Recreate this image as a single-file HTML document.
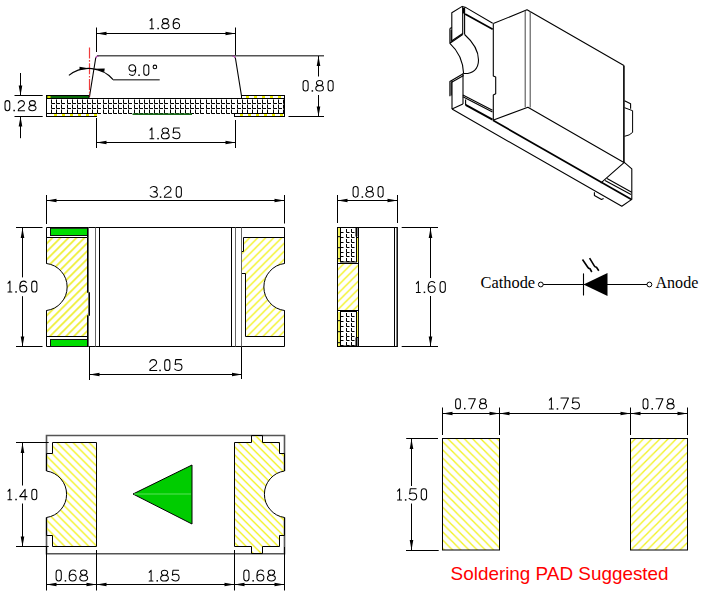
<!DOCTYPE html><html><head><meta charset="utf-8"><style>html,body{margin:0;padding:0;background:#fff;width:706px;height:609px;overflow:hidden;position:relative}</style></head><body><svg width="706" height="609" viewBox="0 0 706 609" style="display:block;position:absolute;left:0;top:0">

<defs>
 <pattern id="hatchA" patternUnits="userSpaceOnUse" width="8" height="8" patternTransform="translate(2.3,0)">
   <path d="M-2,10 L10,-2 M-2,2 L2,-2 M6,10 L10,6" stroke="#eeee30" stroke-width="1.7"/>
 </pattern>
 <pattern id="hatchC" patternUnits="userSpaceOnUse" width="8" height="8" patternTransform="translate(-0.5,0)">
   <path d="M-2,10 L10,-2 M-2,2 L2,-2 M6,10 L10,6" stroke="#f2f220" stroke-width="1.35"/>
 </pattern>
 <pattern id="hatchB" patternUnits="userSpaceOnUse" width="8" height="8" patternTransform="translate(6.5,0)">
   <path d="M-2,-2 L10,10 M-2,6 L2,10 M6,-2 L10,2" stroke="#f2f220" stroke-width="1.35"/>
 </pattern>
 <pattern id="hatchB2" patternUnits="userSpaceOnUse" width="8" height="8" patternTransform="translate(3.8,0)">
   <path d="M-2,-2 L10,10 M-2,6 L2,10 M6,-2 L10,2" stroke="#f2f220" stroke-width="1.35"/>
 </pattern>
 <pattern id="hatchS1" patternUnits="userSpaceOnUse" width="8.2" height="8.2" patternTransform="translate(1,0)">
   <path d="M-2,-2 L10.2,10.2 M-2,6.2 L2,10.2 M6.2,-2 L10.2,2" stroke="#f2f220" stroke-width="1.3"/>
 </pattern>
 <pattern id="hatchS2" patternUnits="userSpaceOnUse" width="8.2" height="8.2">
   <path d="M-2,10.2 L10.2,-2 M-2,2 L2,-2 M6.2,10.2 L10.2,6.2" stroke="#f2f220" stroke-width="1.3"/>
 </pattern>
 <pattern id="grid" patternUnits="userSpaceOnUse" width="5.15" height="4.85" x="51.1" y="98.9">
   <path d="M0,0.6 V4.3 H3.6" stroke="#000" stroke-width="1.1" fill="none" shape-rendering="crispEdges"/>
 </pattern>
 <pattern id="grid2" patternUnits="userSpaceOnUse" width="5.2" height="5.2" x="340" y="227.5">
   <path d="M1,0.9 V4.5 H4.2" stroke="#111" stroke-width="1.1" fill="none"/>
 </pattern>
</defs>

<rect width="706" height="609" fill="#fff"/>
<line x1="96.5" y1="27.50" x2="96.5" y2="52.00" stroke="#000" stroke-width="1"/>
<line x1="235.5" y1="27.50" x2="235.5" y2="55.00" stroke="#000" stroke-width="1"/>
<line x1="96.50" y1="33.5" x2="235.50" y2="33.5" stroke="#000" stroke-width="1"/>
<path d="M96.50,33.50 L106.50,31.70 L106.50,35.30 Z" fill="#000"/>
<path d="M235.50,33.50 L225.50,35.30 L225.50,31.70 Z" fill="#000"/>
<path transform="translate(147.43,18.62) scale(0.822,0.914)" d="M3.2,2.2 L5.4,0 V11 M3.2,11 H7.5" fill="none" stroke="#000" stroke-width="1.05" vector-effect="non-scaling-stroke" stroke-linecap="round" stroke-linejoin="round"/>
<rect x="157.40" y="27.77" width="1.5" height="1.5" fill="#000"/>
<path transform="translate(161.70,18.62) scale(0.822,0.914)" d="M4.5,5.2 C2.4,5.2 0.9,4.2 0.9,2.6 C0.9,1 2.4,0 4.5,0 C6.6,0 8.1,1 8.1,2.6 C8.1,4.2 6.6,5.2 4.5,5.2 C2,5.2 0.1,6.4 0.1,8.1 C0.1,9.9 2,11 4.5,11 C7,11 8.9,9.9 8.9,8.1 C8.9,6.4 7,5.2 4.5,5.2 Z" fill="none" stroke="#000" stroke-width="1.05" vector-effect="non-scaling-stroke" stroke-linecap="round" stroke-linejoin="round"/>
<path transform="translate(172.70,18.62) scale(0.822,0.914)" d="M7.8,1.2 C7,0.4 5.9,0 4.6,0 C2,0 0.6,2.4 0.6,6 V7.4 C0.6,9.6 2.2,11 4.5,11 C6.8,11 8.4,9.6 8.4,7.6 C8.4,5.6 6.8,4.3 4.6,4.3 C2.6,4.3 1.2,5.2 0.6,6.6" fill="none" stroke="#000" stroke-width="1.05" vector-effect="non-scaling-stroke" stroke-linecap="round" stroke-linejoin="round"/>
<line x1="97" y1="55.8" x2="324" y2="55.8" stroke="#555" stroke-width="1.6"/>
<path d="M89.5,96.5 L95.7,58 Q96.3,55.8 98.5,55.8" fill="none" stroke="#000" stroke-width="1.1"/>
<path d="M241.6,96.5 L235.4,58 Q234.8,55.8 232.5,55.8" fill="none" stroke="#000" stroke-width="1.1"/>
<path d="M95.7,58 Q96.3,55.8 98.5,55.8" fill="none" stroke="#c060c0" stroke-width="1.2"/>
<path d="M235.4,58 Q234.8,55.8 232.5,55.8" fill="none" stroke="#c060c0" stroke-width="1.2"/>
<line x1="89.5" y1="47.5" x2="89.5" y2="97" stroke="#f03c3c" stroke-width="1.2" stroke-dasharray="11,1.6,1.6,1.6"/>
<path d="M68.9,75.4 A32,32 0 0 1 113.1,79.6" fill="none" stroke="#000" stroke-width="1.15"/>
<path d="M89.50,68.40 L79.50,70.10 L79.50,66.70 Z" fill="#000"/>
<path d="M94.60,68.70 L104.74,68.60 L104.21,71.96 Z" fill="#000"/>
<line x1="113" y1="79.8" x2="159.7" y2="79.8" stroke="#555" stroke-width="1.4"/>
<path transform="translate(128.42,64.83) scale(0.863,0.959)" d="M1.2,9.8 C2,10.6 3.1,11 4.4,11 C7,11 8.4,8.6 8.4,5 V3.6 C8.4,1.4 6.8,0 4.5,0 C2.2,0 0.6,1.4 0.6,3.4 C0.6,5.4 2.2,6.7 4.4,6.7 C6.4,6.7 7.8,5.8 8.4,4.4" fill="none" stroke="#000" stroke-width="1.05" vector-effect="non-scaling-stroke" stroke-linecap="round" stroke-linejoin="round"/>
<rect x="138.30" y="74.47" width="1.5" height="1.5" fill="#000"/>
<path transform="translate(142.42,64.83) scale(0.863,0.959)" d="M1.6,2.9 A2.9,2.9 0 0 1 7.4,2.9 V8.1 A2.9,2.9 0 0 1 1.6,8.1 Z" fill="none" stroke="#000" stroke-width="1.05" vector-effect="non-scaling-stroke" stroke-linecap="round" stroke-linejoin="round"/>
<circle cx="154.90" cy="66.92" r="1.8" fill="none" stroke="#000" stroke-width="1.05"/>
<rect x="46.5" y="98.5" width="238" height="15" fill="#fff"/>
<path d="M51.5,99.5 V103.5 H55.0 M51.5,104.5 V108.5 H55.0 M51.5,109.5 V113.5 H55.0 M56.5,99.5 V103.5 H60.0 M56.5,104.5 V108.5 H60.0 M56.5,109.5 V113.5 H60.0 M61.5,99.5 V103.5 H65.0 M61.5,104.5 V108.5 H65.0 M61.5,109.5 V113.5 H65.0 M67.5,99.5 V103.5 H71.0 M67.5,104.5 V108.5 H71.0 M67.5,109.5 V113.5 H71.0 M72.5,99.5 V103.5 H76.0 M72.5,104.5 V108.5 H76.0 M72.5,109.5 V113.5 H76.0 M77.5,99.5 V103.5 H81.0 M77.5,104.5 V108.5 H81.0 M77.5,109.5 V113.5 H81.0 M82.5,99.5 V103.5 H86.0 M82.5,104.5 V108.5 H86.0 M82.5,109.5 V113.5 H86.0 M87.5,99.5 V103.5 H91.0 M87.5,104.5 V108.5 H91.0 M87.5,109.5 V113.5 H91.0 M92.5,99.5 V103.5 H96.0 M92.5,104.5 V108.5 H96.0 M92.5,109.5 V113.5 H96.0 M97.5,99.5 V103.5 H101.0 M97.5,104.5 V108.5 H101.0 M97.5,109.5 V113.5 H101.0 M103.5,99.5 V103.5 H107.0 M103.5,104.5 V108.5 H107.0 M103.5,109.5 V113.5 H107.0 M108.5,99.5 V103.5 H112.0 M108.5,104.5 V108.5 H112.0 M108.5,109.5 V113.5 H112.0 M113.5,99.5 V103.5 H117.0 M113.5,104.5 V108.5 H117.0 M113.5,109.5 V113.5 H117.0 M118.5,99.5 V103.5 H122.0 M118.5,104.5 V108.5 H122.0 M118.5,109.5 V113.5 H122.0 M123.5,99.5 V103.5 H127.0 M123.5,104.5 V108.5 H127.0 M123.5,109.5 V113.5 H127.0 M128.5,99.5 V103.5 H132.0 M128.5,104.5 V108.5 H132.0 M128.5,109.5 V113.5 H132.0 M134.5,99.5 V103.5 H138.0 M134.5,104.5 V108.5 H138.0 M134.5,109.5 V113.5 H138.0 M139.5,99.5 V103.5 H143.0 M139.5,104.5 V108.5 H143.0 M139.5,109.5 V113.5 H143.0 M144.5,99.5 V103.5 H148.0 M144.5,104.5 V108.5 H148.0 M144.5,109.5 V113.5 H148.0 M149.5,99.5 V103.5 H153.0 M149.5,104.5 V108.5 H153.0 M149.5,109.5 V113.5 H153.0 M154.5,99.5 V103.5 H158.0 M154.5,104.5 V108.5 H158.0 M154.5,109.5 V113.5 H158.0 M159.5,99.5 V103.5 H163.0 M159.5,104.5 V108.5 H163.0 M159.5,109.5 V113.5 H163.0 M164.5,99.5 V103.5 H168.0 M164.5,104.5 V108.5 H168.0 M164.5,109.5 V113.5 H168.0 M170.5,99.5 V103.5 H174.0 M170.5,104.5 V108.5 H174.0 M170.5,109.5 V113.5 H174.0 M175.5,99.5 V103.5 H179.0 M175.5,104.5 V108.5 H179.0 M175.5,109.5 V113.5 H179.0 M180.5,99.5 V103.5 H184.0 M180.5,104.5 V108.5 H184.0 M180.5,109.5 V113.5 H184.0 M185.5,99.5 V103.5 H189.0 M185.5,104.5 V108.5 H189.0 M185.5,109.5 V113.5 H189.0 M190.5,99.5 V103.5 H194.0 M190.5,104.5 V108.5 H194.0 M190.5,109.5 V113.5 H194.0 M195.5,99.5 V103.5 H199.0 M195.5,104.5 V108.5 H199.0 M195.5,109.5 V113.5 H199.0 M200.5,99.5 V103.5 H204.0 M200.5,104.5 V108.5 H204.0 M200.5,109.5 V113.5 H204.0 M206.5,99.5 V103.5 H210.0 M206.5,104.5 V108.5 H210.0 M206.5,109.5 V113.5 H210.0 M211.5,99.5 V103.5 H215.0 M211.5,104.5 V108.5 H215.0 M211.5,109.5 V113.5 H215.0 M216.5,99.5 V103.5 H220.0 M216.5,104.5 V108.5 H220.0 M216.5,109.5 V113.5 H220.0 M221.5,99.5 V103.5 H225.0 M221.5,104.5 V108.5 H225.0 M221.5,109.5 V113.5 H225.0 M226.5,99.5 V103.5 H230.0 M226.5,104.5 V108.5 H230.0 M226.5,109.5 V113.5 H230.0 M231.5,99.5 V103.5 H235.0 M231.5,104.5 V108.5 H235.0 M231.5,109.5 V113.5 H235.0 M237.5,99.5 V103.5 H241.0 M237.5,104.5 V108.5 H241.0 M237.5,109.5 V113.5 H241.0 M242.5,99.5 V103.5 H246.0 M242.5,104.5 V108.5 H246.0 M242.5,109.5 V113.5 H246.0 M247.5,99.5 V103.5 H251.0 M247.5,104.5 V108.5 H251.0 M247.5,109.5 V113.5 H251.0 M252.5,99.5 V103.5 H256.0 M252.5,104.5 V108.5 H256.0 M252.5,109.5 V113.5 H256.0 M257.5,99.5 V103.5 H261.0 M257.5,104.5 V108.5 H261.0 M257.5,109.5 V113.5 H261.0 M262.5,99.5 V103.5 H266.0 M262.5,104.5 V108.5 H266.0 M262.5,109.5 V113.5 H266.0 M267.5,99.5 V103.5 H271.0 M267.5,104.5 V108.5 H271.0 M267.5,109.5 V113.5 H271.0 M273.5,99.5 V103.5 H277.0 M273.5,104.5 V108.5 H277.0 M273.5,109.5 V113.5 H277.0 M278.5,99.5 V103.5 H282.0 M278.5,104.5 V108.5 H282.0 M278.5,109.5 V113.5 H282.0 M283.5,99.5 V103.5 H284 M283.5,104.5 V108.5 H284 M283.5,109.5 V113.5 H284" stroke="#000" stroke-width="1" fill="none"/>
<rect x="46.5" y="95.5" width="42.5" height="3" fill="#0a6a0a" stroke="#000" stroke-width="1"/>
<rect x="47.5" y="96" width="3" height="2" fill="#e0e000"/>
<rect x="241.5" y="95.5" width="43" height="3" fill="#fff" stroke="#000" stroke-width="1"/>
<rect x="246" y="96" width="3" height="2" fill="#f0f000"/>
<rect x="254" y="96" width="3" height="2" fill="#f0f000"/>
<rect x="262" y="96" width="3" height="2" fill="#f0f000"/>
<rect x="270" y="96" width="3" height="2" fill="#f0f000"/>
<rect x="278" y="96" width="3" height="2" fill="#f0f000"/>
<rect x="46.5" y="113.5" width="50" height="3" fill="#fff" stroke="#000" stroke-width="1"/>
<rect x="54" y="114" width="3" height="2" fill="#f0f000"/>
<rect x="62" y="114" width="3" height="2" fill="#f0f000"/>
<rect x="70" y="114" width="3" height="2" fill="#f0f000"/>
<rect x="78" y="114" width="3" height="2" fill="#f0f000"/>
<rect x="86" y="114" width="3" height="2" fill="#f0f000"/>
<rect x="94" y="114" width="3" height="2" fill="#f0f000"/>
<rect x="234.5" y="113.5" width="50" height="3" fill="#fff" stroke="#000" stroke-width="1"/>
<rect x="240" y="114" width="3" height="2" fill="#f0f000"/>
<rect x="248" y="114" width="3" height="2" fill="#f0f000"/>
<rect x="256" y="114" width="3" height="2" fill="#f0f000"/>
<rect x="264" y="114" width="3" height="2" fill="#f0f000"/>
<rect x="272" y="114" width="3" height="2" fill="#f0f000"/>
<rect x="280" y="114" width="3" height="2" fill="#f0f000"/>
<rect x="132.5" y="113.3" width="59.5" height="1.7" fill="#1a6a1a"/>
<path d="M46.5,113.5 V98.5 H284.5 V113.5" fill="none" stroke="#000" stroke-width="1"/>
<line x1="14.50" y1="95.5" x2="42.70" y2="95.5" stroke="#000" stroke-width="1"/>
<line x1="14.50" y1="116.5" x2="42.70" y2="116.5" stroke="#000" stroke-width="1"/>
<line x1="20.5" y1="73.00" x2="20.5" y2="95.50" stroke="#000" stroke-width="1"/>
<line x1="20.5" y1="116.50" x2="20.5" y2="138.20" stroke="#000" stroke-width="1"/>
<path d="M20.50,95.50 L18.70,85.50 L22.30,85.50 Z" fill="#000"/>
<path d="M20.50,116.50 L22.30,126.50 L18.70,126.50 Z" fill="#000"/>
<path transform="translate(3.70,100.62) scale(0.822,0.914)" d="M1.6,2.9 A2.9,2.9 0 0 1 7.4,2.9 V8.1 A2.9,2.9 0 0 1 1.6,8.1 Z" fill="none" stroke="#000" stroke-width="1.05" vector-effect="non-scaling-stroke" stroke-linecap="round" stroke-linejoin="round"/>
<rect x="13.40" y="109.77" width="1.5" height="1.5" fill="#000"/>
<path transform="translate(17.70,100.62) scale(0.822,0.914)" d="M0.6,2.6 C1.2,0.9 2.6,0 4.4,0 C6.6,0 8.2,1.3 8.2,3.2 C8.2,5.2 6.4,6.1 4.2,7.3 C2,8.4 0.6,9.4 0.6,11 H8.4" fill="none" stroke="#000" stroke-width="1.05" vector-effect="non-scaling-stroke" stroke-linecap="round" stroke-linejoin="round"/>
<path transform="translate(28.70,100.62) scale(0.822,0.914)" d="M4.5,5.2 C2.4,5.2 0.9,4.2 0.9,2.6 C0.9,1 2.4,0 4.5,0 C6.6,0 8.1,1 8.1,2.6 C8.1,4.2 6.6,5.2 4.5,5.2 C2,5.2 0.1,6.4 0.1,8.1 C0.1,9.9 2,11 4.5,11 C7,11 8.9,9.9 8.9,8.1 C8.9,6.4 7,5.2 4.5,5.2 Z" fill="none" stroke="#000" stroke-width="1.05" vector-effect="non-scaling-stroke" stroke-linecap="round" stroke-linejoin="round"/>
<line x1="288.50" y1="116.5" x2="324.00" y2="116.5" stroke="#000" stroke-width="1"/>
<path d="M318.5,56.00 V76.50 M318.5,95.00 V116.50" stroke="#000" stroke-width="1" fill="none"/>
<path d="M318.50,56.00 L320.30,66.00 L316.70,66.00 Z" fill="#000"/>
<path d="M318.50,116.50 L316.70,106.50 L320.30,106.50 Z" fill="#000"/>
<path transform="translate(301.68,80.43) scale(0.871,0.968)" d="M1.6,2.9 A2.9,2.9 0 0 1 7.4,2.9 V8.1 A2.9,2.9 0 0 1 1.6,8.1 Z" fill="none" stroke="#000" stroke-width="1.05" vector-effect="non-scaling-stroke" stroke-linecap="round" stroke-linejoin="round"/>
<rect x="311.60" y="90.18" width="1.5" height="1.5" fill="#000"/>
<path transform="translate(315.68,80.43) scale(0.871,0.968)" d="M4.5,5.2 C2.4,5.2 0.9,4.2 0.9,2.6 C0.9,1 2.4,0 4.5,0 C6.6,0 8.1,1 8.1,2.6 C8.1,4.2 6.6,5.2 4.5,5.2 C2,5.2 0.1,6.4 0.1,8.1 C0.1,9.9 2,11 4.5,11 C7,11 8.9,9.9 8.9,8.1 C8.9,6.4 7,5.2 4.5,5.2 Z" fill="none" stroke="#000" stroke-width="1.05" vector-effect="non-scaling-stroke" stroke-linecap="round" stroke-linejoin="round"/>
<path transform="translate(326.68,80.43) scale(0.871,0.968)" d="M1.6,2.9 A2.9,2.9 0 0 1 7.4,2.9 V8.1 A2.9,2.9 0 0 1 1.6,8.1 Z" fill="none" stroke="#000" stroke-width="1.05" vector-effect="non-scaling-stroke" stroke-linecap="round" stroke-linejoin="round"/>
<line x1="96.5" y1="118.00" x2="96.5" y2="148.00" stroke="#000" stroke-width="1"/>
<line x1="235.5" y1="120.00" x2="235.5" y2="148.00" stroke="#000" stroke-width="1"/>
<line x1="96.50" y1="142.5" x2="235.50" y2="142.5" stroke="#000" stroke-width="1"/>
<path d="M96.50,142.50 L106.50,140.70 L106.50,144.30 Z" fill="#000"/>
<path d="M235.50,142.50 L225.50,144.30 L225.50,140.70 Z" fill="#000"/>
<path transform="translate(147.14,127.93) scale(0.888,0.986)" d="M3.2,2.2 L5.4,0 V11 M3.2,11 H7.5" fill="none" stroke="#000" stroke-width="1.05" vector-effect="non-scaling-stroke" stroke-linecap="round" stroke-linejoin="round"/>
<rect x="157.30" y="137.88" width="1.5" height="1.5" fill="#000"/>
<path transform="translate(161.31,127.93) scale(0.888,0.986)" d="M4.5,5.2 C2.4,5.2 0.9,4.2 0.9,2.6 C0.9,1 2.4,0 4.5,0 C6.6,0 8.1,1 8.1,2.6 C8.1,4.2 6.6,5.2 4.5,5.2 C2,5.2 0.1,6.4 0.1,8.1 C0.1,9.9 2,11 4.5,11 C7,11 8.9,9.9 8.9,8.1 C8.9,6.4 7,5.2 4.5,5.2 Z" fill="none" stroke="#000" stroke-width="1.05" vector-effect="non-scaling-stroke" stroke-linecap="round" stroke-linejoin="round"/>
<path transform="translate(172.31,127.93) scale(0.888,0.986)" d="M8,0 H1.6 L1,5 C2,4.4 3.3,4.1 4.5,4.1 C7,4.1 8.6,5.5 8.6,7.5 C8.6,9.6 6.9,11 4.4,11 C2.8,11 1.4,10.5 0.4,9.4" fill="none" stroke="#000" stroke-width="1.05" vector-effect="non-scaling-stroke" stroke-linecap="round" stroke-linejoin="round"/>
<line x1="46.5" y1="195.00" x2="46.5" y2="224.00" stroke="#000" stroke-width="1"/>
<line x1="284.5" y1="195.00" x2="284.5" y2="223.50" stroke="#000" stroke-width="1"/>
<line x1="46.50" y1="200.5" x2="284.50" y2="200.5" stroke="#000" stroke-width="1"/>
<path d="M46.50,200.50 L56.50,198.70 L56.50,202.30 Z" fill="#000"/>
<path d="M284.50,200.50 L274.50,202.30 L274.50,198.70 Z" fill="#000"/>
<path transform="translate(149.81,186.43) scale(0.888,0.986)" d="M0.6,1.6 C1.5,0.5 2.9,0 4.4,0 C6.6,0 8.2,1.2 8.2,2.9 C8.2,4.6 6.6,5.4 4.4,5.4 C7,5.4 8.6,6.6 8.6,8.3 C8.6,10 6.8,11 4.4,11 C2.8,11 1.4,10.5 0.4,9.4" fill="none" stroke="#000" stroke-width="1.05" vector-effect="non-scaling-stroke" stroke-linecap="round" stroke-linejoin="round"/>
<rect x="159.80" y="196.38" width="1.5" height="1.5" fill="#000"/>
<path transform="translate(163.81,186.43) scale(0.888,0.986)" d="M0.6,2.6 C1.2,0.9 2.6,0 4.4,0 C6.6,0 8.2,1.3 8.2,3.2 C8.2,5.2 6.4,6.1 4.2,7.3 C2,8.4 0.6,9.4 0.6,11 H8.4" fill="none" stroke="#000" stroke-width="1.05" vector-effect="non-scaling-stroke" stroke-linecap="round" stroke-linejoin="round"/>
<path transform="translate(174.81,186.43) scale(0.888,0.986)" d="M1.6,2.9 A2.9,2.9 0 0 1 7.4,2.9 V8.1 A2.9,2.9 0 0 1 1.6,8.1 Z" fill="none" stroke="#000" stroke-width="1.05" vector-effect="non-scaling-stroke" stroke-linecap="round" stroke-linejoin="round"/>
<path d="M46.5,263.5 V227.5 H284.5 V263.5 M284.5,310.5 V346.5 H46.5 V310.5" fill="#fff" stroke="#000" stroke-width="1"/>
<rect x="50.5" y="228.3" width="37" height="7.2" fill="#00dd00" stroke="#111" stroke-width="1"/>
<rect x="50.5" y="339.5" width="37" height="7" fill="#00dd00" stroke="#111" stroke-width="1"/>
<path d="M46.5,237.5 H87.5 V292.5 H89.5 V315.5 H87.5 V336.5 H46.5 V310.5 A23.7,23.7 0 0 0 46.5,263.5 Z" fill="url(#hatchA)"/>
<path d="M46.5,237.5 H87.5 V292.5 H89.5 V315.5 H87.5 V336.5 H46.5 V310.5 A23.7,23.7 0 0 0 46.5,263.5 Z" fill="none" stroke="#000" stroke-width="1"/>
<line x1="87.5" y1="227.50" x2="87.5" y2="237.50" stroke="#000" stroke-width="1"/>
<line x1="87.5" y1="336.50" x2="87.5" y2="346.50" stroke="#000" stroke-width="1"/>
<line x1="88.5" y1="227.50" x2="88.5" y2="346.50" stroke="#666" stroke-width="1"/>
<line x1="95.5" y1="227.50" x2="95.5" y2="346.50" stroke="#666" stroke-width="1"/>
<line x1="99.5" y1="227.50" x2="99.5" y2="346.50" stroke="#000" stroke-width="1"/>
<path d="M243.5,237.5 H284.5 V263.5 A23.7,23.7 0 0 0 284.5,310.5 V336.5 H245.5 V273.5 H241.5 V251.5 H243.5 Z" fill="url(#hatchC)"/>
<path d="M243.5,237.5 H284.5 V263.5 A23.7,23.7 0 0 0 284.5,310.5 V336.5 H245.5 V273.5 H241.5 V251.5 H243.5 Z" fill="none" stroke="#000" stroke-width="1"/>
<line x1="231.5" y1="227.50" x2="231.5" y2="346.50" stroke="#000" stroke-width="1"/>
<line x1="235.5" y1="227.50" x2="235.5" y2="346.50" stroke="#666" stroke-width="1"/>
<line x1="241.5" y1="227.50" x2="241.5" y2="346.50" stroke="#666" stroke-width="1"/>
<line x1="46.50" y1="336.5" x2="88.00" y2="336.5" stroke="#000" stroke-width="1"/>
<line x1="16.00" y1="227.5" x2="42.50" y2="227.5" stroke="#000" stroke-width="1"/>
<line x1="16.00" y1="346.5" x2="42.50" y2="346.5" stroke="#000" stroke-width="1"/>
<path d="M22.5,228.00 V277.40 M22.5,296.20 V346.50" stroke="#000" stroke-width="1" fill="none"/>
<path d="M22.50,228.00 L24.30,238.00 L20.70,238.00 Z" fill="#000"/>
<path d="M22.50,346.50 L20.70,336.50 L24.30,336.50 Z" fill="#000"/>
<path transform="translate(5.11,281.12) scale(0.896,0.995)" d="M3.2,2.2 L5.4,0 V11 M3.2,11 H7.5" fill="none" stroke="#000" stroke-width="1.05" vector-effect="non-scaling-stroke" stroke-linecap="round" stroke-linejoin="round"/>
<rect x="15.30" y="291.18" width="1.5" height="1.5" fill="#000"/>
<path transform="translate(19.27,281.12) scale(0.896,0.995)" d="M7.8,1.2 C7,0.4 5.9,0 4.6,0 C2,0 0.6,2.4 0.6,6 V7.4 C0.6,9.6 2.2,11 4.5,11 C6.8,11 8.4,9.6 8.4,7.6 C8.4,5.6 6.8,4.3 4.6,4.3 C2.6,4.3 1.2,5.2 0.6,6.6" fill="none" stroke="#000" stroke-width="1.05" vector-effect="non-scaling-stroke" stroke-linecap="round" stroke-linejoin="round"/>
<path transform="translate(30.27,281.12) scale(0.896,0.995)" d="M1.6,2.9 A2.9,2.9 0 0 1 7.4,2.9 V8.1 A2.9,2.9 0 0 1 1.6,8.1 Z" fill="none" stroke="#000" stroke-width="1.05" vector-effect="non-scaling-stroke" stroke-linecap="round" stroke-linejoin="round"/>
<line x1="89.5" y1="347.00" x2="89.5" y2="380.00" stroke="#000" stroke-width="1"/>
<line x1="241.5" y1="347.00" x2="241.5" y2="379.00" stroke="#000" stroke-width="1"/>
<line x1="89.50" y1="374.5" x2="242.00" y2="374.5" stroke="#000" stroke-width="1"/>
<path d="M89.50,374.50 L99.50,372.70 L99.50,376.30 Z" fill="#000"/>
<path d="M242.00,374.50 L232.00,376.30 L232.00,372.70 Z" fill="#000"/>
<path transform="translate(149.27,359.62) scale(0.896,0.995)" d="M0.6,2.6 C1.2,0.9 2.6,0 4.4,0 C6.6,0 8.2,1.3 8.2,3.2 C8.2,5.2 6.4,6.1 4.2,7.3 C2,8.4 0.6,9.4 0.6,11 H8.4" fill="none" stroke="#000" stroke-width="1.05" vector-effect="non-scaling-stroke" stroke-linecap="round" stroke-linejoin="round"/>
<rect x="159.30" y="369.68" width="1.5" height="1.5" fill="#000"/>
<path transform="translate(163.27,359.62) scale(0.896,0.995)" d="M1.6,2.9 A2.9,2.9 0 0 1 7.4,2.9 V8.1 A2.9,2.9 0 0 1 1.6,8.1 Z" fill="none" stroke="#000" stroke-width="1.05" vector-effect="non-scaling-stroke" stroke-linecap="round" stroke-linejoin="round"/>
<path transform="translate(174.27,359.62) scale(0.896,0.995)" d="M8,0 H1.6 L1,5 C2,4.4 3.3,4.1 4.5,4.1 C7,4.1 8.6,5.5 8.6,7.5 C8.6,9.6 6.9,11 4.4,11 C2.8,11 1.4,10.5 0.4,9.4" fill="none" stroke="#000" stroke-width="1.05" vector-effect="non-scaling-stroke" stroke-linecap="round" stroke-linejoin="round"/>
<line x1="337.5" y1="195.00" x2="337.5" y2="223.00" stroke="#000" stroke-width="1"/>
<line x1="397.5" y1="195.00" x2="397.5" y2="223.00" stroke="#000" stroke-width="1"/>
<line x1="337.50" y1="200.5" x2="397.50" y2="200.5" stroke="#000" stroke-width="1"/>
<path d="M337.50,200.50 L347.50,198.70 L347.50,202.30 Z" fill="#000"/>
<path d="M397.50,200.50 L387.50,202.30 L387.50,198.70 Z" fill="#000"/>
<path transform="translate(351.68,186.53) scale(0.871,0.968)" d="M1.6,2.9 A2.9,2.9 0 0 1 7.4,2.9 V8.1 A2.9,2.9 0 0 1 1.6,8.1 Z" fill="none" stroke="#000" stroke-width="1.05" vector-effect="non-scaling-stroke" stroke-linecap="round" stroke-linejoin="round"/>
<rect x="361.60" y="196.28" width="1.5" height="1.5" fill="#000"/>
<path transform="translate(365.68,186.53) scale(0.871,0.968)" d="M4.5,5.2 C2.4,5.2 0.9,4.2 0.9,2.6 C0.9,1 2.4,0 4.5,0 C6.6,0 8.1,1 8.1,2.6 C8.1,4.2 6.6,5.2 4.5,5.2 C2,5.2 0.1,6.4 0.1,8.1 C0.1,9.9 2,11 4.5,11 C7,11 8.9,9.9 8.9,8.1 C8.9,6.4 7,5.2 4.5,5.2 Z" fill="none" stroke="#000" stroke-width="1.05" vector-effect="non-scaling-stroke" stroke-linecap="round" stroke-linejoin="round"/>
<path transform="translate(376.68,186.53) scale(0.871,0.968)" d="M1.6,2.9 A2.9,2.9 0 0 1 7.4,2.9 V8.1 A2.9,2.9 0 0 1 1.6,8.1 Z" fill="none" stroke="#000" stroke-width="1.05" vector-effect="non-scaling-stroke" stroke-linecap="round" stroke-linejoin="round"/>
<rect x="337.5" y="227.5" width="59.7" height="119" fill="#fff" stroke="#000" stroke-width="1"/>
<line x1="394.5" y1="227.50" x2="394.5" y2="346.50" stroke="#000" stroke-width="1"/>
<line x1="358.5" y1="227.50" x2="358.5" y2="346.50" stroke="#000" stroke-width="1"/>
<rect x="338" y="263" width="20" height="47" fill="url(#hatchC)"/>
<line x1="337.50" y1="263.5" x2="358.20" y2="263.5" stroke="#000" stroke-width="1"/>
<line x1="337.50" y1="310.5" x2="358.20" y2="310.5" stroke="#000" stroke-width="1"/>
<rect x="338.2" y="228" width="1.8" height="34" fill="#f4f450"/>
<rect x="338" y="236" width="2.2" height="1.2" fill="#222"/>
<rect x="338" y="247" width="2.2" height="1.2" fill="#222"/>
<rect x="338" y="258" width="2.2" height="1.2" fill="#222"/>
<rect x="356.6" y="237" width="1.5" height="25" fill="#f4f450"/>
<path d="M356.5,237.5 H358.2" stroke="#000" stroke-width="1"/>
<rect x="340.5" y="227.5" width="16" height="34.5" fill="#fff" stroke="#000" stroke-width="1"/>
<path d="M340.5,229.0 V232.5 H343.5 M340.5,234.0 V237.5 H343.5 M340.5,239.0 V242.5 H343.5 M340.5,244.0 V247.5 H343.5 M340.5,249.0 V252.5 H343.5 M340.5,253.0 V256.5 H343.5 M340.5,258.0 V261.5 H343.5 M346.5,229.0 V232.5 H349.5 M346.5,234.0 V237.5 H349.5 M346.5,239.0 V242.5 H349.5 M346.5,244.0 V247.5 H349.5 M346.5,249.0 V252.5 H349.5 M346.5,253.0 V256.5 H349.5 M346.5,258.0 V261.5 H349.5 M351.5,229.0 V232.5 H354.5 M351.5,234.0 V237.5 H354.5 M351.5,239.0 V242.5 H354.5 M351.5,244.0 V247.5 H354.5 M351.5,249.0 V252.5 H354.5 M351.5,253.0 V256.5 H354.5 M351.5,258.0 V261.5 H354.5" stroke="#000" stroke-width="1" fill="none"/>
<rect x="338.2" y="312" width="1.8" height="34" fill="#f4f450"/>
<rect x="338" y="320" width="2.2" height="1.2" fill="#222"/>
<rect x="338" y="331" width="2.2" height="1.2" fill="#222"/>
<rect x="338" y="342" width="2.2" height="1.2" fill="#222"/>
<rect x="356.6" y="312" width="1.5" height="25" fill="#f4f450"/>
<path d="M356.5,337.5 H358.2" stroke="#000" stroke-width="1"/>
<rect x="340.5" y="311.5" width="16" height="34.5" fill="#fff" stroke="#000" stroke-width="1"/>
<path d="M340.5,313.0 V316.5 H343.5 M340.5,318.0 V321.5 H343.5 M340.5,323.0 V326.5 H343.5 M340.5,328.0 V331.5 H343.5 M340.5,333.0 V336.5 H343.5 M340.5,337.0 V340.5 H343.5 M340.5,342.0 V345.5 H343.5 M346.5,313.0 V316.5 H349.5 M346.5,318.0 V321.5 H349.5 M346.5,323.0 V326.5 H349.5 M346.5,328.0 V331.5 H349.5 M346.5,333.0 V336.5 H349.5 M346.5,337.0 V340.5 H349.5 M346.5,342.0 V345.5 H349.5 M351.5,313.0 V316.5 H354.5 M351.5,318.0 V321.5 H354.5 M351.5,323.0 V326.5 H354.5 M351.5,328.0 V331.5 H354.5 M351.5,333.0 V336.5 H354.5 M351.5,337.0 V340.5 H354.5 M351.5,342.0 V345.5 H354.5" stroke="#000" stroke-width="1" fill="none"/>
<path d="M356.5,228 V236.5 M356.5,337.5 V346" stroke="#000" stroke-width="2"/>
<rect x="337.5" y="227.5" width="59.7" height="119" fill="none" stroke="#000" stroke-width="1"/>
<line x1="401.70" y1="227.5" x2="438.00" y2="227.5" stroke="#000" stroke-width="1"/>
<line x1="401.70" y1="346.5" x2="438.00" y2="346.5" stroke="#000" stroke-width="1"/>
<path d="M430.5,228.00 V278.00 M430.5,296.00 V346.50" stroke="#000" stroke-width="1" fill="none"/>
<path d="M430.50,228.00 L432.30,238.00 L428.70,238.00 Z" fill="#000"/>
<path d="M430.50,346.50 L428.70,336.50 L432.30,336.50 Z" fill="#000"/>
<path transform="translate(413.49,281.42) scale(0.904,1.005)" d="M3.2,2.2 L5.4,0 V11 M3.2,11 H7.5" fill="none" stroke="#000" stroke-width="1.05" vector-effect="non-scaling-stroke" stroke-linecap="round" stroke-linejoin="round"/>
<rect x="423.70" y="291.57" width="1.5" height="1.5" fill="#000"/>
<path transform="translate(427.63,281.42) scale(0.904,1.005)" d="M7.8,1.2 C7,0.4 5.9,0 4.6,0 C2,0 0.6,2.4 0.6,6 V7.4 C0.6,9.6 2.2,11 4.5,11 C6.8,11 8.4,9.6 8.4,7.6 C8.4,5.6 6.8,4.3 4.6,4.3 C2.6,4.3 1.2,5.2 0.6,6.6" fill="none" stroke="#000" stroke-width="1.05" vector-effect="non-scaling-stroke" stroke-linecap="round" stroke-linejoin="round"/>
<path transform="translate(438.63,281.42) scale(0.904,1.005)" d="M1.6,2.9 A2.9,2.9 0 0 1 7.4,2.9 V8.1 A2.9,2.9 0 0 1 1.6,8.1 Z" fill="none" stroke="#000" stroke-width="1.05" vector-effect="non-scaling-stroke" stroke-linecap="round" stroke-linejoin="round"/>
<path d="M46.5,471 V435.5 H284.5 V471 M284.5,517.5 V553.8 H46.5 V517.5" fill="none" stroke="#555" stroke-width="1.6"/>
<path d="M52.5,442.5 H96.5 V546.5 H52.5 V535.5 H46.5 V517.5 A23.5,23.5 0 0 0 46.5,471 V453.5 H52.5 Z" fill="url(#hatchB)"/>
<path d="M52.5,442.5 H96.5 V546.5 H52.5 V535.5 H46.5 V517.5 A23.5,23.5 0 0 0 46.5,471 V453.5 H52.5 Z" fill="none" stroke="#000" stroke-width="1"/>
<path d="M234.5,442.5 H251.5 V435.5 H262.5 V442.5 H279.5 V453.5 H284.5 V471 A23.5,23.5 0 0 0 284.5,517.5 V535.5 H279.5 V546.5 H262.5 V553.5 H251.5 V546.5 H234.5 Z" fill="url(#hatchB2)"/>
<path d="M234.5,442.5 H251.5 V435.5 H262.5 V442.5 H279.5 V453.5 H284.5 V471 A23.5,23.5 0 0 0 284.5,517.5 V535.5 H279.5 V546.5 H262.5 V553.5 H251.5 V546.5 H234.5 Z" fill="none" stroke="#000" stroke-width="1"/>
<path d="M133,494 L192,465 L192,524 Z" fill="#00cc00" stroke="#000" stroke-width="1"/>
<line x1="134" y1="494" x2="191" y2="494" stroke="#5be05b" stroke-width="1"/>
<line x1="16.00" y1="442.5" x2="48.70" y2="442.5" stroke="#000" stroke-width="1"/>
<line x1="16.00" y1="546.5" x2="48.70" y2="546.5" stroke="#000" stroke-width="1"/>
<path d="M22.5,443.00 V485.50 M22.5,503.50 V546.50" stroke="#000" stroke-width="1" fill="none"/>
<path d="M22.50,443.00 L24.30,453.00 L20.70,453.00 Z" fill="#000"/>
<path d="M22.50,546.50 L20.70,536.50 L24.30,536.50 Z" fill="#000"/>
<path transform="translate(5.23,489.22) scale(0.855,0.950)" d="M3.2,2.2 L5.4,0 V11 M3.2,11 H7.5" fill="none" stroke="#000" stroke-width="1.05" vector-effect="non-scaling-stroke" stroke-linecap="round" stroke-linejoin="round"/>
<rect x="15.30" y="498.77" width="1.5" height="1.5" fill="#000"/>
<path transform="translate(19.45,489.22) scale(0.855,0.950)" d="M6.6,11 V0 L0.3,7.8 H8.8" fill="none" stroke="#000" stroke-width="1.05" vector-effect="non-scaling-stroke" stroke-linecap="round" stroke-linejoin="round"/>
<path transform="translate(30.45,489.22) scale(0.855,0.950)" d="M1.6,2.9 A2.9,2.9 0 0 1 7.4,2.9 V8.1 A2.9,2.9 0 0 1 1.6,8.1 Z" fill="none" stroke="#000" stroke-width="1.05" vector-effect="non-scaling-stroke" stroke-linecap="round" stroke-linejoin="round"/>
<line x1="46.5" y1="547.00" x2="46.5" y2="590.50" stroke="#000" stroke-width="1"/>
<line x1="96.5" y1="550.00" x2="96.5" y2="590.50" stroke="#000" stroke-width="1"/>
<line x1="234.5" y1="550.00" x2="234.5" y2="590.50" stroke="#000" stroke-width="1"/>
<line x1="284.5" y1="547.00" x2="284.5" y2="590.50" stroke="#000" stroke-width="1"/>
<line x1="46.50" y1="584.5" x2="96.50" y2="584.5" stroke="#000" stroke-width="1"/>
<path d="M46.50,584.50 L56.50,582.70 L56.50,586.30 Z" fill="#000"/>
<path d="M96.50,584.50 L86.50,586.30 L86.50,582.70 Z" fill="#000"/>
<line x1="96.50" y1="584.5" x2="234.50" y2="584.5" stroke="#000" stroke-width="1"/>
<path d="M96.50,584.50 L106.50,582.70 L106.50,586.30 Z" fill="#000"/>
<path d="M234.50,584.50 L224.50,586.30 L224.50,582.70 Z" fill="#000"/>
<line x1="234.50" y1="584.5" x2="284.50" y2="584.5" stroke="#000" stroke-width="1"/>
<path d="M234.50,584.50 L244.50,582.70 L244.50,586.30 Z" fill="#000"/>
<path d="M284.50,584.50 L274.50,586.30 L274.50,582.70 Z" fill="#000"/>
<path transform="translate(54.67,570.02) scale(0.896,0.995)" d="M1.6,2.9 A2.9,2.9 0 0 1 7.4,2.9 V8.1 A2.9,2.9 0 0 1 1.6,8.1 Z" fill="none" stroke="#000" stroke-width="1.05" vector-effect="non-scaling-stroke" stroke-linecap="round" stroke-linejoin="round"/>
<rect x="64.70" y="580.08" width="1.5" height="1.5" fill="#000"/>
<path transform="translate(68.67,570.02) scale(0.896,0.995)" d="M7.8,1.2 C7,0.4 5.9,0 4.6,0 C2,0 0.6,2.4 0.6,6 V7.4 C0.6,9.6 2.2,11 4.5,11 C6.8,11 8.4,9.6 8.4,7.6 C8.4,5.6 6.8,4.3 4.6,4.3 C2.6,4.3 1.2,5.2 0.6,6.6" fill="none" stroke="#000" stroke-width="1.05" vector-effect="non-scaling-stroke" stroke-linecap="round" stroke-linejoin="round"/>
<path transform="translate(79.67,570.02) scale(0.896,0.995)" d="M4.5,5.2 C2.4,5.2 0.9,4.2 0.9,2.6 C0.9,1 2.4,0 4.5,0 C6.6,0 8.1,1 8.1,2.6 C8.1,4.2 6.6,5.2 4.5,5.2 C2,5.2 0.1,6.4 0.1,8.1 C0.1,9.9 2,11 4.5,11 C7,11 8.9,9.9 8.9,8.1 C8.9,6.4 7,5.2 4.5,5.2 Z" fill="none" stroke="#000" stroke-width="1.05" vector-effect="non-scaling-stroke" stroke-linecap="round" stroke-linejoin="round"/>
<path transform="translate(146.36,570.23) scale(0.880,0.977)" d="M3.2,2.2 L5.4,0 V11 M3.2,11 H7.5" fill="none" stroke="#000" stroke-width="1.05" vector-effect="non-scaling-stroke" stroke-linecap="round" stroke-linejoin="round"/>
<rect x="156.50" y="580.08" width="1.5" height="1.5" fill="#000"/>
<path transform="translate(160.54,570.23) scale(0.880,0.977)" d="M4.5,5.2 C2.4,5.2 0.9,4.2 0.9,2.6 C0.9,1 2.4,0 4.5,0 C6.6,0 8.1,1 8.1,2.6 C8.1,4.2 6.6,5.2 4.5,5.2 C2,5.2 0.1,6.4 0.1,8.1 C0.1,9.9 2,11 4.5,11 C7,11 8.9,9.9 8.9,8.1 C8.9,6.4 7,5.2 4.5,5.2 Z" fill="none" stroke="#000" stroke-width="1.05" vector-effect="non-scaling-stroke" stroke-linecap="round" stroke-linejoin="round"/>
<path transform="translate(171.54,570.23) scale(0.880,0.977)" d="M8,0 H1.6 L1,5 C2,4.4 3.3,4.1 4.5,4.1 C7,4.1 8.6,5.5 8.6,7.5 C8.6,9.6 6.9,11 4.4,11 C2.8,11 1.4,10.5 0.4,9.4" fill="none" stroke="#000" stroke-width="1.05" vector-effect="non-scaling-stroke" stroke-linecap="round" stroke-linejoin="round"/>
<path transform="translate(242.37,570.02) scale(0.896,0.995)" d="M1.6,2.9 A2.9,2.9 0 0 1 7.4,2.9 V8.1 A2.9,2.9 0 0 1 1.6,8.1 Z" fill="none" stroke="#000" stroke-width="1.05" vector-effect="non-scaling-stroke" stroke-linecap="round" stroke-linejoin="round"/>
<rect x="252.40" y="580.08" width="1.5" height="1.5" fill="#000"/>
<path transform="translate(256.37,570.02) scale(0.896,0.995)" d="M7.8,1.2 C7,0.4 5.9,0 4.6,0 C2,0 0.6,2.4 0.6,6 V7.4 C0.6,9.6 2.2,11 4.5,11 C6.8,11 8.4,9.6 8.4,7.6 C8.4,5.6 6.8,4.3 4.6,4.3 C2.6,4.3 1.2,5.2 0.6,6.6" fill="none" stroke="#000" stroke-width="1.05" vector-effect="non-scaling-stroke" stroke-linecap="round" stroke-linejoin="round"/>
<path transform="translate(267.37,570.02) scale(0.896,0.995)" d="M4.5,5.2 C2.4,5.2 0.9,4.2 0.9,2.6 C0.9,1 2.4,0 4.5,0 C6.6,0 8.1,1 8.1,2.6 C8.1,4.2 6.6,5.2 4.5,5.2 C2,5.2 0.1,6.4 0.1,8.1 C0.1,9.9 2,11 4.5,11 C7,11 8.9,9.9 8.9,8.1 C8.9,6.4 7,5.2 4.5,5.2 Z" fill="none" stroke="#000" stroke-width="1.05" vector-effect="non-scaling-stroke" stroke-linecap="round" stroke-linejoin="round"/>
<rect x="442.5" y="438.5" width="57" height="111.5" fill="url(#hatchS1)" stroke="#000" stroke-width="1"/>
<rect x="630.5" y="438.5" width="57" height="111.5" fill="url(#hatchS2)" stroke="#000" stroke-width="1"/>
<line x1="442.5" y1="407.50" x2="442.5" y2="435.00" stroke="#000" stroke-width="1"/>
<line x1="499.5" y1="407.50" x2="499.5" y2="435.00" stroke="#000" stroke-width="1"/>
<line x1="630.5" y1="407.50" x2="630.5" y2="435.00" stroke="#000" stroke-width="1"/>
<line x1="687.5" y1="407.50" x2="687.5" y2="435.00" stroke="#000" stroke-width="1"/>
<line x1="442.50" y1="413.5" x2="499.50" y2="413.5" stroke="#000" stroke-width="1"/>
<path d="M442.50,413.50 L452.50,411.70 L452.50,415.30 Z" fill="#000"/>
<path d="M499.50,413.50 L489.50,415.30 L489.50,411.70 Z" fill="#000"/>
<line x1="499.50" y1="413.5" x2="630.50" y2="413.5" stroke="#000" stroke-width="1"/>
<path d="M499.50,413.50 L509.50,411.70 L509.50,415.30 Z" fill="#000"/>
<path d="M630.50,413.50 L620.50,415.30 L620.50,411.70 Z" fill="#000"/>
<line x1="630.50" y1="413.5" x2="687.50" y2="413.5" stroke="#000" stroke-width="1"/>
<path d="M630.50,413.50 L640.50,411.70 L640.50,415.30 Z" fill="#000"/>
<path d="M687.50,413.50 L677.50,415.30 L677.50,411.70 Z" fill="#000"/>
<path transform="translate(454.34,398.82) scale(0.814,0.905)" d="M1.6,2.9 A2.9,2.9 0 0 1 7.4,2.9 V8.1 A2.9,2.9 0 0 1 1.6,8.1 Z" fill="none" stroke="#000" stroke-width="1.05" vector-effect="non-scaling-stroke" stroke-linecap="round" stroke-linejoin="round"/>
<rect x="464.00" y="407.88" width="1.5" height="1.5" fill="#000"/>
<path transform="translate(468.34,398.82) scale(0.814,0.905)" d="M0.4,0 H8.6 L3.2,11" fill="none" stroke="#000" stroke-width="1.05" vector-effect="non-scaling-stroke" stroke-linecap="round" stroke-linejoin="round"/>
<path transform="translate(479.34,398.82) scale(0.814,0.905)" d="M4.5,5.2 C2.4,5.2 0.9,4.2 0.9,2.6 C0.9,1 2.4,0 4.5,0 C6.6,0 8.1,1 8.1,2.6 C8.1,4.2 6.6,5.2 4.5,5.2 C2,5.2 0.1,6.4 0.1,8.1 C0.1,9.9 2,11 4.5,11 C7,11 8.9,9.9 8.9,8.1 C8.9,6.4 7,5.2 4.5,5.2 Z" fill="none" stroke="#000" stroke-width="1.05" vector-effect="non-scaling-stroke" stroke-linecap="round" stroke-linejoin="round"/>
<path transform="translate(546.46,397.92) scale(0.912,1.014)" d="M3.2,2.2 L5.4,0 V11 M3.2,11 H7.5" fill="none" stroke="#000" stroke-width="1.05" vector-effect="non-scaling-stroke" stroke-linecap="round" stroke-linejoin="round"/>
<rect x="556.70" y="408.17" width="1.5" height="1.5" fill="#000"/>
<path transform="translate(560.59,397.92) scale(0.912,1.014)" d="M0.4,0 H8.6 L3.2,11" fill="none" stroke="#000" stroke-width="1.05" vector-effect="non-scaling-stroke" stroke-linecap="round" stroke-linejoin="round"/>
<path transform="translate(571.59,397.92) scale(0.912,1.014)" d="M8,0 H1.6 L1,5 C2,4.4 3.3,4.1 4.5,4.1 C7,4.1 8.6,5.5 8.6,7.5 C8.6,9.6 6.9,11 4.4,11 C2.8,11 1.4,10.5 0.4,9.4" fill="none" stroke="#000" stroke-width="1.05" vector-effect="non-scaling-stroke" stroke-linecap="round" stroke-linejoin="round"/>
<path transform="translate(641.76,398.82) scale(0.830,0.923)" d="M1.6,2.9 A2.9,2.9 0 0 1 7.4,2.9 V8.1 A2.9,2.9 0 0 1 1.6,8.1 Z" fill="none" stroke="#000" stroke-width="1.05" vector-effect="non-scaling-stroke" stroke-linecap="round" stroke-linejoin="round"/>
<rect x="651.50" y="408.07" width="1.5" height="1.5" fill="#000"/>
<path transform="translate(655.76,398.82) scale(0.830,0.923)" d="M0.4,0 H8.6 L3.2,11" fill="none" stroke="#000" stroke-width="1.05" vector-effect="non-scaling-stroke" stroke-linecap="round" stroke-linejoin="round"/>
<path transform="translate(666.76,398.82) scale(0.830,0.923)" d="M4.5,5.2 C2.4,5.2 0.9,4.2 0.9,2.6 C0.9,1 2.4,0 4.5,0 C6.6,0 8.1,1 8.1,2.6 C8.1,4.2 6.6,5.2 4.5,5.2 C2,5.2 0.1,6.4 0.1,8.1 C0.1,9.9 2,11 4.5,11 C7,11 8.9,9.9 8.9,8.1 C8.9,6.4 7,5.2 4.5,5.2 Z" fill="none" stroke="#000" stroke-width="1.05" vector-effect="non-scaling-stroke" stroke-linecap="round" stroke-linejoin="round"/>
<line x1="406.20" y1="438.5" x2="438.00" y2="438.5" stroke="#000" stroke-width="1"/>
<line x1="406.00" y1="550.5" x2="438.70" y2="550.5" stroke="#000" stroke-width="1"/>
<path d="M411.5,439.00 V486.00 M411.5,503.50 V550.00" stroke="#000" stroke-width="1" fill="none"/>
<path d="M411.50,439.00 L413.30,449.00 L409.70,449.00 Z" fill="#000"/>
<path d="M411.50,550.00 L409.70,540.00 L413.30,540.00 Z" fill="#000"/>
<path transform="translate(394.64,488.82) scale(0.920,1.023)" d="M3.2,2.2 L5.4,0 V11 M3.2,11 H7.5" fill="none" stroke="#000" stroke-width="1.05" vector-effect="non-scaling-stroke" stroke-linecap="round" stroke-linejoin="round"/>
<rect x="404.90" y="499.18" width="1.5" height="1.5" fill="#000"/>
<path transform="translate(408.76,488.82) scale(0.920,1.023)" d="M8,0 H1.6 L1,5 C2,4.4 3.3,4.1 4.5,4.1 C7,4.1 8.6,5.5 8.6,7.5 C8.6,9.6 6.9,11 4.4,11 C2.8,11 1.4,10.5 0.4,9.4" fill="none" stroke="#000" stroke-width="1.05" vector-effect="non-scaling-stroke" stroke-linecap="round" stroke-linejoin="round"/>
<path transform="translate(419.76,488.82) scale(0.920,1.023)" d="M1.6,2.9 A2.9,2.9 0 0 1 7.4,2.9 V8.1 A2.9,2.9 0 0 1 1.6,8.1 Z" fill="none" stroke="#000" stroke-width="1.05" vector-effect="non-scaling-stroke" stroke-linecap="round" stroke-linejoin="round"/>
<text x="450.6" y="580.4" style="font-family:&quot;Liberation Sans&quot;,sans-serif" font-size="18.5" fill="#ff0000" textLength="218" lengthAdjust="spacingAndGlyphs">Soldering PAD Suggested</text>
<text x="480.5" y="288" style="font-family:&quot;Liberation Serif&quot;,serif" font-size="16.5" fill="#000" textLength="54.6" lengthAdjust="spacingAndGlyphs">Cathode</text>
<text x="655.5" y="288" style="font-family:&quot;Liberation Serif&quot;,serif" font-size="16.5" fill="#000" textLength="42.8" lengthAdjust="spacingAndGlyphs">Anode</text>
<circle cx="540.8" cy="284.5" r="2.4" fill="#fff" stroke="#000" stroke-width="1"/>
<circle cx="649.4" cy="284.5" r="2.4" fill="#fff" stroke="#000" stroke-width="1"/>
<line x1="543.20" y1="284.5" x2="647.00" y2="284.5" stroke="#000" stroke-width="1"/>
<line x1="583.5" y1="273.40" x2="583.5" y2="295.50" stroke="#000" stroke-width="1.1"/>
<path d="M583.5,284.5 L607.5,273 L607.5,296 Z" fill="#000"/>
<path d="M582.5,259.5 L587.6,267 Q588.5,268.5 590,268.8 L591.8,272" fill="none" stroke="#000" stroke-width="1.6"/>
<path d="M589.6,258.1 L594.3,265.8 Q595,267 596.5,267.2 L598.8,270.8" fill="none" stroke="#000" stroke-width="1.6"/>
<path d="M451.8,40.6 L451.8,12.8 L462.2,6.4 L466.0,7.6 L492.7,23.2" fill="none" stroke="#000" stroke-width="1.1" stroke-linejoin="round"/>
<path d="M462.7,7.0 L462.7,34.5" fill="none" stroke="#000" stroke-width="1.1" stroke-linejoin="round"/>
<path d="M464.6,7.6 L464.6,34.5" fill="none" stroke="#000" stroke-width="1.1" stroke-linejoin="round"/>
<path d="M463.6,8.0 L463.6,13.5" fill="none" stroke="#000" stroke-width="2.2" stroke-linejoin="round"/>
<path d="M465.1,14.0 L492.7,29.3" fill="none" stroke="#000" stroke-width="1.7" stroke-linejoin="round"/>
<path d="M449.9,28.6 L451.8,27.6" fill="none" stroke="#000" stroke-width="1.1" stroke-linejoin="round"/>
<path d="M449.9,28.6 L449.9,43.3 L462.7,34.5" fill="none" stroke="#000" stroke-width="1.1" stroke-linejoin="round"/>
<path d="M451.5,41.0 L462.7,33.5" fill="none" stroke="#000" stroke-width="1.1" stroke-linejoin="round"/>
<path d="M451.2,30.0 L451.2,42.0" fill="none" stroke="#000" stroke-width="1.1" stroke-linejoin="round"/>
<path d="M449.9,43.3 C455,48 463,58 463.6,73.5" fill="none" stroke="#000" stroke-width="1.1" stroke-linejoin="round"/>
<path d="M464.6,34.5 C473,42 478.5,50 478.5,60 C478.5,69 473,74 463.6,73.5" fill="none" stroke="#000" stroke-width="1.1" stroke-linejoin="round"/>
<path d="M463.6,73.5 L449.9,81.4 L449.9,96.3" fill="none" stroke="#000" stroke-width="1.1" stroke-linejoin="round"/>
<path d="M463.6,75.5 L451.2,82.6" fill="none" stroke="#000" stroke-width="1.1" stroke-linejoin="round"/>
<path d="M451.2,82.5 L451.2,95.5" fill="none" stroke="#000" stroke-width="1.1" stroke-linejoin="round"/>
<path d="M452.0,80.5 L452.0,109.1" fill="none" stroke="#000" stroke-width="1.1" stroke-linejoin="round"/>
<path d="M463.0,73.5 L463.0,104.1" fill="none" stroke="#000" stroke-width="1.1" stroke-linejoin="round"/>
<path d="M452.0,109.1 L462.9,104.1" fill="none" stroke="#000" stroke-width="1.1" stroke-linejoin="round"/>
<path d="M462.9,95.1 L492.5,110.3" fill="none" stroke="#000" stroke-width="1.1" stroke-linejoin="round"/>
<path d="M462.9,96.8 L492.5,112.0" fill="none" stroke="#000" stroke-width="1.1" stroke-linejoin="round"/>
<path d="M465.6,99.4 L465.6,105.0" fill="none" stroke="#000" stroke-width="1.1" stroke-linejoin="round"/>
<path d="M465.6,104.9 L492.5,119.7" fill="none" stroke="#000" stroke-width="2.0" stroke-linejoin="round"/>
<path d="M493.3,23.6 L493.3,76.0 L495.7,77.0 L495.7,93.7 L493.3,95.0 L493.3,120.3" fill="none" stroke="#000" stroke-width="1.1" stroke-linejoin="round"/>
<path d="M493.3,23.6 L527.0,9.8 L623.9,65.6" fill="none" stroke="#000" stroke-width="1.1" stroke-linejoin="round"/>
<path d="M623.9,65.6 L623.9,162.4" fill="none" stroke="#000" stroke-width="1.6" stroke-linejoin="round"/>
<path d="M525.2,10.8 V107.3" fill="none" stroke="#555" stroke-width="1.1" stroke-linejoin="round"/>
<path d="M530.2,11.3 V107.6" fill="none" stroke="#555" stroke-width="1.1" stroke-linejoin="round"/>
<path d="M492.9,120.3 L527.9,107.2 L623.9,162.4" fill="none" stroke="#000" stroke-width="1.1" stroke-linejoin="round"/>
<path d="M452.0,109.1 L621.8,206.3 L631.8,199.4 L631.8,168.8 L624.3,162.4 L600.7,183.1" fill="none" stroke="#000" stroke-width="1.1" stroke-linejoin="round"/>
<path d="M492.9,120.3 L631.5,199.6" fill="none" stroke="#000" stroke-width="1.7" stroke-linejoin="round"/>
<path d="M607.0,178.5 L631.7,192.3" fill="none" stroke="#000" stroke-width="1.1" stroke-linejoin="round"/>
<path d="M605.0,180.5 L631.0,194.5" fill="none" stroke="#000" stroke-width="1.1" stroke-linejoin="round"/>
<path d="M624.5,100.8 L630.6,103.8 L630.6,108.7" fill="none" stroke="#000" stroke-width="1.1" stroke-linejoin="round"/>
<path d="M624.5,107.7 L632.6,110.7 V132.4 Q629.7,135.5 624.5,136.3" fill="none" stroke="#000" stroke-width="1.0" stroke-linejoin="round"/>
<path d="M594.4,192.3 L594.4,195.5 L601.5,199.5 L603.6,198.6" fill="none" stroke="#000" stroke-width="1.1" stroke-linejoin="round"/>
</svg></body></html>
